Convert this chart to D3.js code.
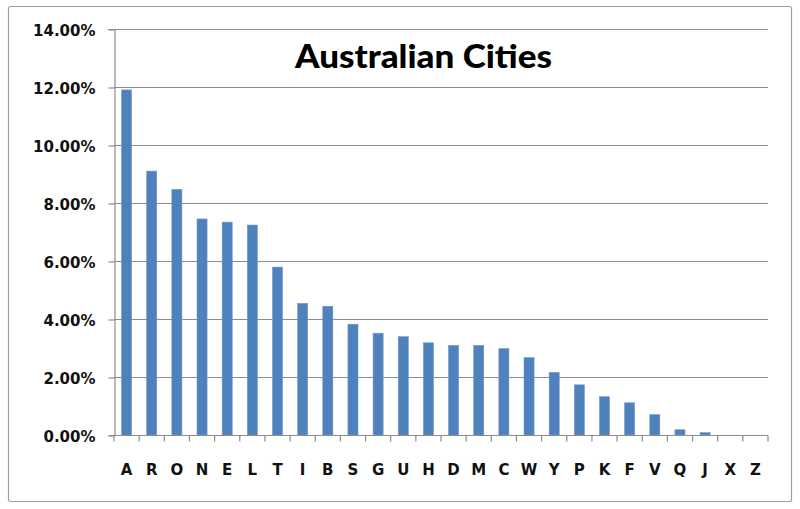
<!DOCTYPE html>
<html>
<head>
<meta charset="utf-8">
<script src="https://cdn.jsdelivr.net/npm/d3@7"></script>
<style>
  body { margin: 0; background: #fff; }
  #chart svg { display: block; }
</style>
</head>
<body>
<div id="chart"></div>
<script>
// Letter frequency data (percent)
const letters = ["A", "R", "O", "N", "E", "L", "T", "I", "B", "S", "G", "U", "H",
  "D", "M", "C", "W", "Y", "P", "K", "F", "V", "Q", "J", "X", "Z"];
const shares = [11.9, 9.1, 8.47, 7.45, 7.34, 7.24, 5.79, 4.54, 4.44, 3.82, 3.51, 3.39, 3.18,
  3.09, 3.09, 2.98, 2.67, 2.16, 1.73, 1.32, 1.11, 0.7, 0.18, 0.08, 0, 0];
const yTicks = [0, 2, 4, 6, 8, 10, 12, 14];
const chartTitle = "Australian Cities";

const W = 800, H = 509;
const margin = { top: 29, right: 32, bottom: 74, left: 114 };
const width = W - margin.left - margin.right;
const height = H - margin.top - margin.bottom;

const svg = d3.select("#chart").append("svg")
  .attr("width", W)
  .attr("height", H);

// Outer chart frame
svg.append("rect")
  .attr("x", 8.5).attr("y", 6.5)
  .attr("width", 783).attr("height", 495)
  .attr("rx", 2)
  .attr("fill", "#fff")
  .attr("stroke", "#a0a0a0")
  .attr("stroke-width", 1.2);

const g = svg.append("g")
  .attr("transform", `translate(${margin.left},${margin.top})`);

const x = d3.scaleBand()
  .domain(letters)
  .range([0, width])
  .paddingInner(0.6)
  .paddingOuter(0.3);

const y = d3.scaleLinear()
  .domain([0, 14])
  .range([height, 0]);

// Gridlines
g.append("g")
  .selectAll("line")
  .data(yTicks.filter(d => d > 0))
  .enter()
  .append("line")
  .attr("x1", 0).attr("x2", width)
  .attr("y1", d => y(d) + 0.5).attr("y2", d => y(d) + 0.5)
  .attr("stroke", "#8c8c8c")
  .attr("stroke-width", 1.2);

// Y axis
const yAxis = g.append("g")
  .attr("transform", "translate(0.5,0)")
  .call(d3.axisLeft(y).tickValues(yTicks).tickSize(6).tickPadding(13)
    .tickFormat(d => d.toFixed(2) + "%"));
yAxis.select(".domain").attr("stroke", "#8c8c8c").attr("stroke-width", 1.2);
yAxis.selectAll(".tick line").attr("stroke", "#8c8c8c").attr("stroke-width", 1.2)
  .attr("transform", "translate(0,0.5)");
yAxis.selectAll("text")
  .attr("font-family", "'DejaVu Sans', sans-serif")
  .attr("font-weight", "bold")
  .attr("font-size", "15px")
  .attr("dy", "0.45em")
  .attr("fill", "#111");

// Bars
g.selectAll(".bar")
  .data(letters.map((l, i) => ({ letter: l, value: shares[i] })))
  .enter()
  .append("rect")
  .attr("class", "bar")
  .attr("x", d => x(d.letter))
  .attr("y", d => y(d.value))
  .attr("width", x.bandwidth())
  .attr("height", d => height - y(d.value))
  .attr("fill", "#4f81bd")
  .attr("stroke", "#6d98cc")
  .attr("stroke-width", 0.6);

// X axis: ticks at band boundaries
const xAxis = g.append("g")
  .attr("transform", `translate(0,${height + 0.5})`);
xAxis.append("line")
  .attr("x1", 0).attr("x2", width)
  .attr("stroke", "#8c8c8c").attr("stroke-width", 1.2);
xAxis.selectAll(".xtick")
  .data(d3.range(letters.length + 1))
  .enter()
  .append("line")
  .attr("class", "xtick")
  .attr("x1", i => i * width / letters.length)
  .attr("x2", i => i * width / letters.length)
  .attr("y1", 0).attr("y2", 6)
  .attr("stroke", "#8c8c8c").attr("stroke-width", 1.2);
xAxis.selectAll(".xlabel")
  .data(letters)
  .enter()
  .append("text")
  .attr("class", "xlabel")
  .attr("x", d => x(d) + x.bandwidth() / 2)
  .attr("y", 39)
  .attr("text-anchor", "middle")
  .attr("font-family", "'DejaVu Sans', sans-serif")
  .attr("font-weight", "bold")
  .attr("font-size", "15px")
  .attr("fill", "#111")
  .text(d => d);

// Title
svg.append("text")
  .attr("x", 295)
  .attr("y", 68)
  .attr("textLength", 257)
  .attr("lengthAdjust", "spacingAndGlyphs")
  .attr("font-family", "Lato, sans-serif")
  .attr("font-weight", "900")
  .attr("font-size", "32px")
  .attr("fill", "#000")
  .text(chartTitle);
</script>
</body>
</html>
